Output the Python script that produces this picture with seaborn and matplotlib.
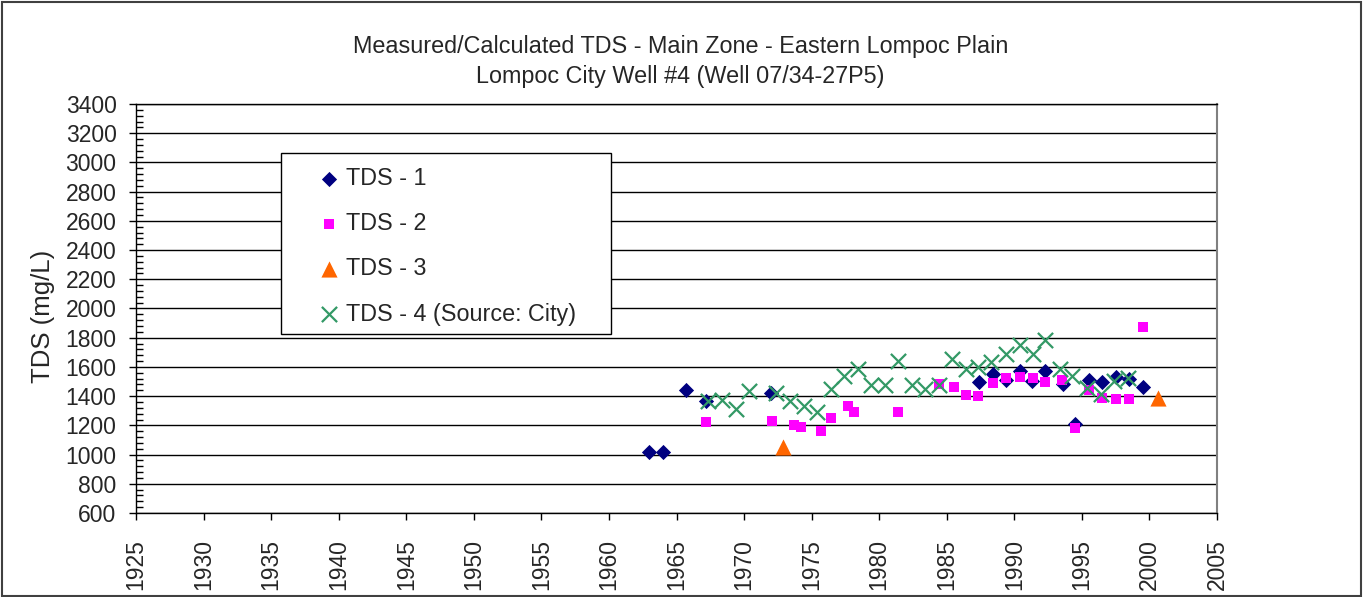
import matplotlib
matplotlib.use("Agg")
import matplotlib.pyplot as plt
from matplotlib.patches import Rectangle
from matplotlib.ticker import MultipleLocator
import seaborn as sns

# Sample dates (decimal years) and TDS concentrations (mg/L) per data source
tds1_year = [1963.0, 1964.0, 1965.7, 1967.2, 1972.0, 1987.4, 1988.4, 1989.4, 1990.4,
             1991.3, 1992.3, 1993.6, 1994.5, 1995.5, 1996.5, 1997.5, 1998.5, 1999.5]
tds1 = [1020, 1020, 1440, 1370, 1420, 1500, 1555, 1510, 1575,
        1505, 1570, 1480, 1210, 1510, 1500, 1530, 1520, 1460]

tds2_year = [1967.2, 1972.1, 1973.7, 1974.2, 1975.7, 1976.4, 1977.7, 1978.1, 1981.4,
             1984.4, 1985.5, 1986.4, 1987.3, 1988.4, 1989.4, 1990.4, 1991.4, 1992.3,
             1993.5, 1994.5, 1995.5, 1996.5, 1997.5, 1998.5, 1999.5]
tds2 = [1220, 1230, 1200, 1190, 1160, 1250, 1330, 1290, 1290,
        1480, 1460, 1410, 1400, 1490, 1525, 1530, 1525, 1500,
        1510, 1180, 1440, 1385, 1380, 1380, 1870]

tds3_year = [1972.9, 2000.6]
tds3 = [1050, 1390]

tds4_year = [1967.3, 1968.4, 1969.4, 1970.4, 1972.4, 1973.4, 1974.4, 1975.4, 1976.4,
             1977.4, 1978.4, 1979.4, 1980.4, 1981.4, 1982.4, 1983.4, 1984.4, 1985.4,
             1986.4, 1987.3, 1988.3, 1989.4, 1990.4, 1991.4, 1992.3, 1993.4, 1994.3,
             1995.4, 1996.4, 1997.4, 1998.4]
tds4 = [1367, 1371, 1314, 1435, 1421, 1365, 1330, 1291, 1449,
        1538, 1586, 1474, 1478, 1640, 1478, 1447, 1478, 1652,
        1588, 1602, 1636, 1686, 1752, 1689, 1786, 1588, 1540,
        1454, 1415, 1504, 1526]

series_labels = ["TDS - 1", "TDS - 2", "TDS - 3", "TDS - 4 (Source: City)"]
title_lines = ["Measured/Calculated TDS - Main Zone - Eastern Lompoc Plain",
               "Lompoc City Well #4 (Well 07/34-27P5)"]
y_label = "TDS (mg/L)"

sns.set_style("white")
plt.rcParams["font.family"] = ["Liberation Sans", "DejaVu Sans"]

W, H = 1364, 597
fig = plt.figure(figsize=(W / 100, H / 100), dpi=100)
ax = fig.add_axes([136 / W, 1 - 513 / H, (1217 - 136) / W, (513 - 104) / H])

sns.scatterplot(x=tds1_year, y=tds1, ax=ax, marker="D", s=60, color="#000080",
                edgecolor="#000080", linewidth=0, label=series_labels[0], zorder=3)
sns.scatterplot(x=tds2_year, y=tds2, ax=ax, marker="s", s=58, color="#FF00FF",
                edgecolor="#FF00FF", linewidth=0, label=series_labels[1], zorder=4)
sns.scatterplot(x=tds3_year, y=tds3, ax=ax, marker="^", s=135, color="#FF6600",
                edgecolor="#FF6600", linewidth=0, label=series_labels[2], zorder=5)
sns.scatterplot(x=tds4_year, y=tds4, ax=ax, marker="x", s=120, color="#339966",
                linewidth=1.6, label=series_labels[3], zorder=6)

ax.set_xlim(1925, 2005)
ax.set_ylim(600, 3400)
ax.xaxis.set_major_locator(MultipleLocator(5))
ax.yaxis.set_major_locator(MultipleLocator(200))
ax.yaxis.set_minor_locator(MultipleLocator(40))
ax.set_xlabel("")
ax.set_ylabel("")

ax.grid(axis="y", which="major", color="black", linewidth=1.0, zorder=0)
ax.grid(axis="x", visible=False)
ax.set_axisbelow(True)

for side in ["left", "bottom", "top"]:
    ax.spines[side].set_color("black")
    ax.spines[side].set_linewidth(1.0)
ax.spines["right"].set_color("#808080")
ax.spines["right"].set_linewidth(1.5)

ax.tick_params(axis="x", which="major", direction="out", length=5, width=1,
               color="black", labelsize=16.5, rotation=90, pad=14, bottom=True)
ax.tick_params(axis="y", which="major", direction="out", length=5, width=1,
               color="black", labelsize=16.5, pad=9, left=True)
ax.tick_params(axis="y", which="minor", direction="in", length=5, width=1,
               color="black", left=True)

# Legend inside a hand-placed rectangular frame
leg = ax.legend(loc="upper left", bbox_to_anchor=(318 / W, 1 - 167 / H),
                bbox_transform=fig.transFigure, frameon=False, fontsize=16.8,
                handlelength=0.9, handletextpad=0.3, labelspacing=0.95,
                borderaxespad=0, borderpad=0)
leg.set_zorder(10)
ax.add_patch(Rectangle((281 / W, 1 - 334 / H), 330 / W, 181 / H,
                       transform=fig.transFigure, facecolor="white",
                       edgecolor="black", linewidth=1.0, zorder=9, clip_on=False))

fig.text(0.499, 1 - 47 / H, title_lines[0], ha="center", va="center", fontsize=16.8)
fig.text(0.499, 1 - 76 / H, title_lines[1], ha="center", va="center", fontsize=16.8)
fig.text(43 / W, 1 - 316 / H, y_label, ha="center", va="center", rotation=90,
         fontsize=18.5)

# Outer chart border
fig.patches.append(Rectangle((2 / W, 1 / H), (W - 5) / W, (H - 3) / H,
                             transform=fig.transFigure, facecolor="none",
                             edgecolor="#404040", linewidth=1.5))

fig.savefig("out.png", dpi=100)
